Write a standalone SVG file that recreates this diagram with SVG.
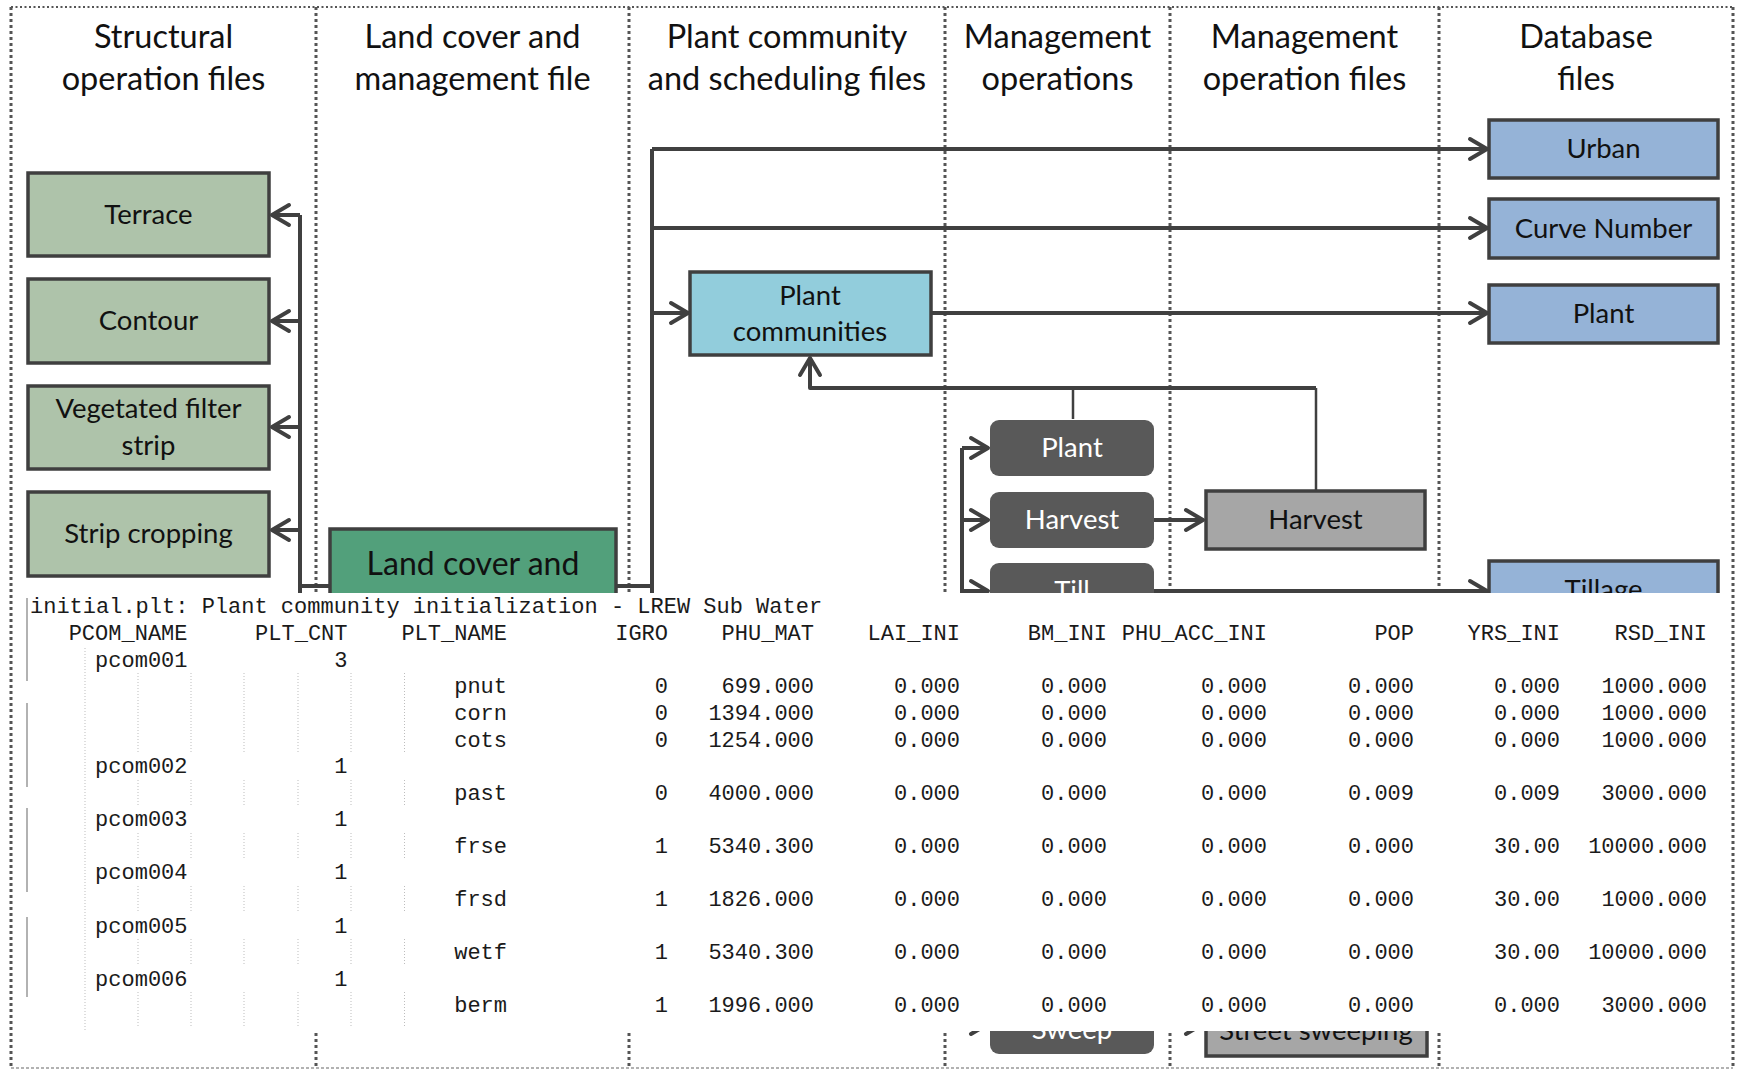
<svg xmlns="http://www.w3.org/2000/svg" width="1737" height="1070" viewBox="0 0 1737 1070">
<style>
.hd{font-family:Lato,"Liberation Sans",sans-serif;font-size:32.5px;fill:#111;text-anchor:middle}
.lc{font-family:Lato,"Liberation Sans",sans-serif;font-size:32px;fill:#111;text-anchor:middle}
.nt{font-family:Lato,"Liberation Sans",sans-serif;font-size:27.5px;fill:#111;text-anchor:middle}
.wt{font-family:Lato,"Liberation Sans",sans-serif;font-size:27.5px;fill:#fff;text-anchor:middle}
.div{stroke:#555;stroke-width:3;stroke-dasharray:3 3;fill:none}
.bd{stroke:#3f3f3f;stroke-width:3.5}
.sage{fill:#aec3aa}
.db{fill:#95b3d7}
.dk{fill:#595959}
.gr{fill:#a6a6a6}
.cn{fill:none;stroke:#404040;stroke-width:4;stroke-linejoin:round}
.cnt{fill:none;stroke:#404040;stroke-width:2.5}
.ar{marker-end:url(#ah)}
.t{font-family:"Liberation Mono","Courier New",monospace;font-size:22px;fill:#1a1a1a;text-anchor:end}
.gd{fill:none;stroke:#bdbdbd;stroke-width:1;stroke-dasharray:1 2}
</style>
<defs>
<marker id="ah" markerUnits="userSpaceOnUse" markerWidth="30" markerHeight="30" viewBox="-22 -15 30 30" refX="0" refY="0" orient="auto" overflow="visible">
<path d="M-17,-10 L0,0 L-17,10" fill="none" stroke="#404040" stroke-width="4" stroke-linecap="round" stroke-linejoin="round"/>
</marker>
<clipPath id="below"><rect x="0" y="1031" width="1737" height="39"/></clipPath>
<clipPath id="above"><rect x="0" y="0" width="1737" height="593"/></clipPath>
</defs>
<rect width="1737" height="1070" fill="#fff"/>

<g id="frame">
<path d="M11 7H1733" stroke="#555" stroke-width="2" stroke-dasharray="2 2.5"/>
<path d="M11 1068H1733" stroke="#999" stroke-width="1.5" stroke-dasharray="3 2"/>
<path class="div" d="M11 7V1068M1733 7V1068M316 7V1068M629 7V1068M945 7V1068M1170 7V1068M1439 7V1068"/>
</g>

<g id="headers">
<text class="hd" x="163.5" y="48">Structural</text><text class="hd" x="163.5" y="90">operation files</text>
<text class="hd" x="472.5" y="48">Land cover and</text><text class="hd" x="472.5" y="90">management file</text>
<text class="hd" x="787" y="48">Plant community</text><text class="hd" x="787" y="90">and scheduling files</text>
<text class="hd" x="1057.5" y="48">Management</text><text class="hd" x="1057.5" y="90">operations</text>
<text class="hd" x="1304.5" y="48">Management</text><text class="hd" x="1304.5" y="90">operation files</text>
<text class="hd" x="1586" y="48">Database</text><text class="hd" x="1586" y="90">files</text>
</g>

<g id="connectors">
<path class="cn" d="M330 586H300M300 600V215"/>
<path class="cn ar" d="M300 215H272"/>
<path class="cn ar" d="M300 321H272"/>
<path class="cn ar" d="M300 427H272"/>
<path class="cn ar" d="M300 530H272"/>
<path class="cn" d="M616 586H652M652 600V149"/>
<path class="cn ar" d="M652 149H1487"/>
<path class="cn ar" d="M652 228H1487"/>
<path class="cn ar" d="M652 313H688"/>
<path class="cn ar" d="M931 313H1487"/>
<path class="cnt" d="M1316 491V388M1073 419V388"/>
<path class="cn ar" d="M1316 388H810V358"/>
<path class="cn" d="M962 448V1024"/>
<path class="cn ar" d="M962 448H988"/>
<path class="cn ar" d="M962 520H988"/>
<path class="cn ar" d="M962 591H988"/>
<path class="cn ar" d="M962 1024H988"/>
<path class="cn ar" d="M1154 520H1203"/>
<path class="cn ar" d="M1154 591H1487"/>
<path class="cn ar" d="M1154 1024H1203"/>
</g>

<g id="terrace"><rect class="sage bd" x="28" y="173" width="241" height="83"/><text class="nt" x="148.5" y="224">Terrace</text></g>
<g id="contour"><rect class="sage bd" x="28" y="279" width="241" height="84"/><text class="nt" x="148.5" y="330">Contour</text></g>
<g id="vfs"><rect class="sage bd" x="28" y="386" width="241" height="83"/><text class="nt" x="148.5" y="418">Vegetated filter</text><text class="nt" x="148.5" y="455">strip</text></g>
<g id="strip-cropping"><rect class="sage bd" x="28" y="492" width="241" height="84"/><text class="nt" x="148.5" y="543">Strip cropping</text></g>
<g id="land-cover"><rect class="bd" fill="#52a07b" x="330" y="529" width="286" height="100"/><text class="lc" x="473" y="575">Land cover and</text></g>
<g id="plant-communities"><rect class="bd" fill="#92cddc" x="690" y="272" width="241" height="83"/><text class="nt" x="810" y="305">Plant</text><text class="nt" x="810" y="341">communities</text></g>
<g id="db-urban"><rect class="db bd" x="1489" y="120" width="229" height="58"/><text class="nt" x="1603.5" y="158">Urban</text></g>
<g id="db-cn"><rect class="db bd" x="1489" y="199" width="229" height="59"/><text class="nt" x="1603.5" y="238">Curve Number</text></g>
<g id="db-plant"><rect class="db bd" x="1489" y="285" width="229" height="58"/><text class="nt" x="1603.5" y="323">Plant</text></g>
<g id="db-tillage"><rect class="db bd" x="1489" y="561" width="229" height="58"/><text class="nt" x="1603.5" y="599" clip-path="url(#above)">Tillage</text></g>
<g id="op-plant"><rect class="dk" x="990" y="420" width="164" height="56" rx="9"/><text class="wt" x="1072" y="457">Plant</text></g>
<g id="op-harvest"><rect class="dk" x="990" y="492" width="164" height="56" rx="9"/><text class="wt" x="1072" y="529">Harvest</text></g>
<g id="op-till"><rect class="dk" x="990" y="563" width="164" height="56" rx="9"/><text class="wt" x="1072" y="600" clip-path="url(#above)">Till</text></g>
<g id="op-sweep"><rect class="dk" x="990" y="997" width="164" height="57" rx="9"/><text class="wt" x="1072" y="1039" clip-path="url(#below)">Sweep</text></g>
<g id="file-harvest"><rect class="gr bd" x="1206" y="491" width="219" height="58"/><text class="nt" x="1315.5" y="529">Harvest</text></g>
<g id="file-street"><rect class="gr bd" x="1206" y="998" width="221" height="58"/><text class="nt" x="1316" y="1040" clip-path="url(#below)">Street sweeping</text></g>

<g id="initial-plt">
<rect x="16" y="593" width="1713" height="438" fill="#fff"/>
<path d="M27 598V681M27 703V787M27 808V892M27 917V997" stroke="#999" stroke-width="1.5" fill="none"/>
<path class="gd" d="M85 648V1030"/>
<path class="gd" d="M138 673V753M138 780V807M138 833V860M138 886V913M138 939V966M138 992V1028"/>
<path class="gd" d="M191 673V753M191 780V807M191 833V860M191 886V913M191 939V966M191 992V1028"/>
<path class="gd" d="M244 673V753M244 780V807M244 833V860M244 886V913M244 939V966M244 992V1028"/>
<path class="gd" d="M298 673V753M298 780V807M298 833V860M298 886V913M298 939V966M298 992V1028"/>
<path class="gd" d="M351 673V753M351 780V807M351 833V860M351 886V913M351 939V966M351 992V1028"/>
<path class="gd" d="M404.5 673V753M404.5 780V807M404.5 833V860M404.5 886V913M404.5 939V966M404.5 992V1028"/>
<g class="t">
<text x="30" y="613" style="text-anchor:start">initial.plt: Plant community initialization - LREW Sub Water</text>
<text y="640"><tspan x="187.5">PCOM_NAME</tspan><tspan x="347.5">PLT_CNT</tspan><tspan x="507">PLT_NAME</tspan><tspan x="668">IGRO</tspan><tspan x="814">PHU_MAT</tspan><tspan x="960">LAI_INI</tspan><tspan x="1107">BM_INI</tspan><tspan x="1267">PHU_ACC_INI</tspan><tspan x="1414">POP</tspan><tspan x="1560">YRS_INI</tspan><tspan x="1707">RSD_INI</tspan></text>
<text y="666.5"><tspan x="187.5">pcom001</tspan><tspan x="347.5">3</tspan></text>
<text y="693"><tspan x="507">pnut</tspan><tspan x="668">0</tspan><tspan x="814">699.000</tspan><tspan x="960">0.000</tspan><tspan x="1107">0.000</tspan><tspan x="1267">0.000</tspan><tspan x="1414">0.000</tspan><tspan x="1560">0.000</tspan><tspan x="1707">1000.000</tspan></text>
<text y="720"><tspan x="507">corn</tspan><tspan x="668">0</tspan><tspan x="814">1394.000</tspan><tspan x="960">0.000</tspan><tspan x="1107">0.000</tspan><tspan x="1267">0.000</tspan><tspan x="1414">0.000</tspan><tspan x="1560">0.000</tspan><tspan x="1707">1000.000</tspan></text>
<text y="746.5"><tspan x="507">cots</tspan><tspan x="668">0</tspan><tspan x="814">1254.000</tspan><tspan x="960">0.000</tspan><tspan x="1107">0.000</tspan><tspan x="1267">0.000</tspan><tspan x="1414">0.000</tspan><tspan x="1560">0.000</tspan><tspan x="1707">1000.000</tspan></text>
<text y="773"><tspan x="187.5">pcom002</tspan><tspan x="347.5">1</tspan></text>
<text y="800"><tspan x="507">past</tspan><tspan x="668">0</tspan><tspan x="814">4000.000</tspan><tspan x="960">0.000</tspan><tspan x="1107">0.000</tspan><tspan x="1267">0.000</tspan><tspan x="1414">0.009</tspan><tspan x="1560">0.009</tspan><tspan x="1707">3000.000</tspan></text>
<text y="826"><tspan x="187.5">pcom003</tspan><tspan x="347.5">1</tspan></text>
<text y="853"><tspan x="507">frse</tspan><tspan x="668">1</tspan><tspan x="814">5340.300</tspan><tspan x="960">0.000</tspan><tspan x="1107">0.000</tspan><tspan x="1267">0.000</tspan><tspan x="1414">0.000</tspan><tspan x="1560">30.00</tspan><tspan x="1707">10000.000</tspan></text>
<text y="879"><tspan x="187.5">pcom004</tspan><tspan x="347.5">1</tspan></text>
<text y="906"><tspan x="507">frsd</tspan><tspan x="668">1</tspan><tspan x="814">1826.000</tspan><tspan x="960">0.000</tspan><tspan x="1107">0.000</tspan><tspan x="1267">0.000</tspan><tspan x="1414">0.000</tspan><tspan x="1560">30.00</tspan><tspan x="1707">1000.000</tspan></text>
<text y="932.5"><tspan x="187.5">pcom005</tspan><tspan x="347.5">1</tspan></text>
<text y="959"><tspan x="507">wetf</tspan><tspan x="668">1</tspan><tspan x="814">5340.300</tspan><tspan x="960">0.000</tspan><tspan x="1107">0.000</tspan><tspan x="1267">0.000</tspan><tspan x="1414">0.000</tspan><tspan x="1560">30.00</tspan><tspan x="1707">10000.000</tspan></text>
<text y="986"><tspan x="187.5">pcom006</tspan><tspan x="347.5">1</tspan></text>
<text y="1012"><tspan x="507">berm</tspan><tspan x="668">1</tspan><tspan x="814">1996.000</tspan><tspan x="960">0.000</tspan><tspan x="1107">0.000</tspan><tspan x="1267">0.000</tspan><tspan x="1414">0.000</tspan><tspan x="1560">0.000</tspan><tspan x="1707">3000.000</tspan></text>
</g>
</g>
</svg>
